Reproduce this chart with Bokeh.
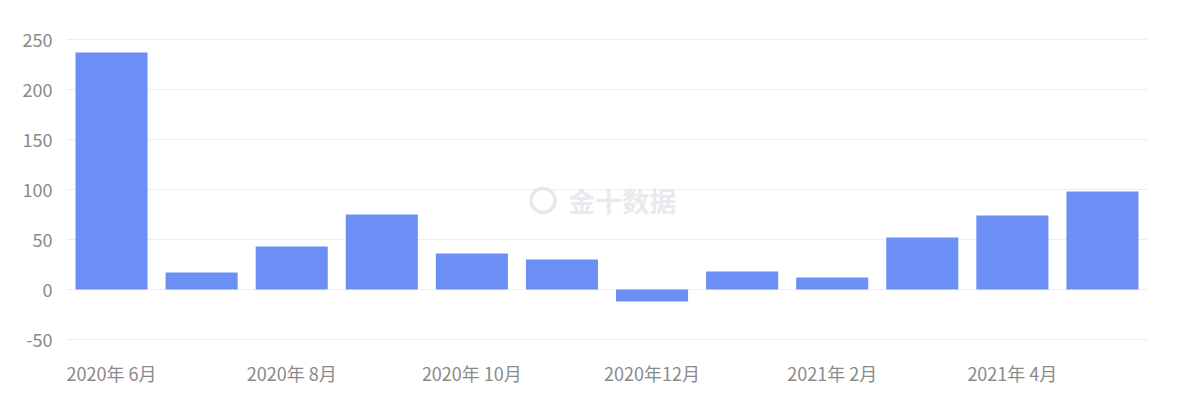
from bokeh.plotting import figure
from bokeh.models import FixedTicker, Range1d, Label
from bokeh.embed import file_html
from bokeh.resources import INLINE

months = ["2020-06", "2020-07", "2020-08", "2020-09", "2020-10", "2020-11",
          "2020-12", "2021-01", "2021-02", "2021-03", "2021-04", "2021-05"]
values = [237, 17, 43, 75, 36, 30, -12, 18, 12, 52, 74, 98]
tick_labels = {0: "2020年 6月", 2: "2020年 8月", 4: "2020年 10月",
               6: "2020年12月", 8: "2021年 2月", 10: "2021年 4月"}
y_ticks = [-50, 0, 50, 100, 150, 200, 250]
y_tick_labels = {t: str(t) for t in y_ticks}

xs = list(range(len(months)))

p = figure(frame_width=1081, frame_height=302, output_backend="svg", toolbar_location=None,
           x_range=Range1d(-0.5, len(months) - 0.5), y_range=Range1d(-51, 251),
           min_border_left=66, min_border_right=20, min_border_top=38,
           min_border_bottom=48)
p.outline_line_color = None
p.background_fill_color = "white"
p.border_fill_color = "white"

# watermark
p.scatter(x=[4.79], y=[89], size=24, marker="circle", fill_color=None,
          line_color="#e6e8ec", line_width=3.5)
p.add_layout(Label(x=5.07, y=89, text="金十数据", text_font="Noto Sans CJK SC",
                   text_font_style="bold", text_font_size="27px",
                   text_color="#e8eaee", text_baseline="middle", text_align="left"))

p.vbar(x=xs, top=values, bottom=0, width=0.8, fill_color="#6b8ff4", line_color=None)

p.xgrid.grid_line_color = None
p.ygrid.grid_line_color = "#eeeeee"
p.ygrid.ticker = FixedTicker(ticks=y_ticks)

p.yaxis.ticker = FixedTicker(ticks=y_ticks)
p.yaxis.major_label_overrides = y_tick_labels
p.yaxis.axis_line_color = None
p.yaxis.major_tick_line_color = None
p.yaxis.minor_tick_line_color = None
p.yaxis.major_label_standoff = 8
p.yaxis.major_label_text_color = "#8a8a8a"
p.yaxis.major_label_text_font = "Noto Sans CJK SC"
p.yaxis.major_label_text_font_size = "18px"

p.xaxis.ticker = FixedTicker(ticks=list(tick_labels.keys()))
p.xaxis.major_label_overrides = tick_labels
p.xaxis.axis_line_color = None
p.xaxis.major_tick_line_color = None
p.xaxis.minor_tick_line_color = None
p.xaxis.major_label_standoff = 13
p.xaxis.major_label_text_color = "#8a8a8a"
p.xaxis.major_label_text_font = "Noto Sans CJK SC"
p.xaxis.major_label_text_font_size = "18px"

open("out.html", "w").write(file_html(p, INLINE))
